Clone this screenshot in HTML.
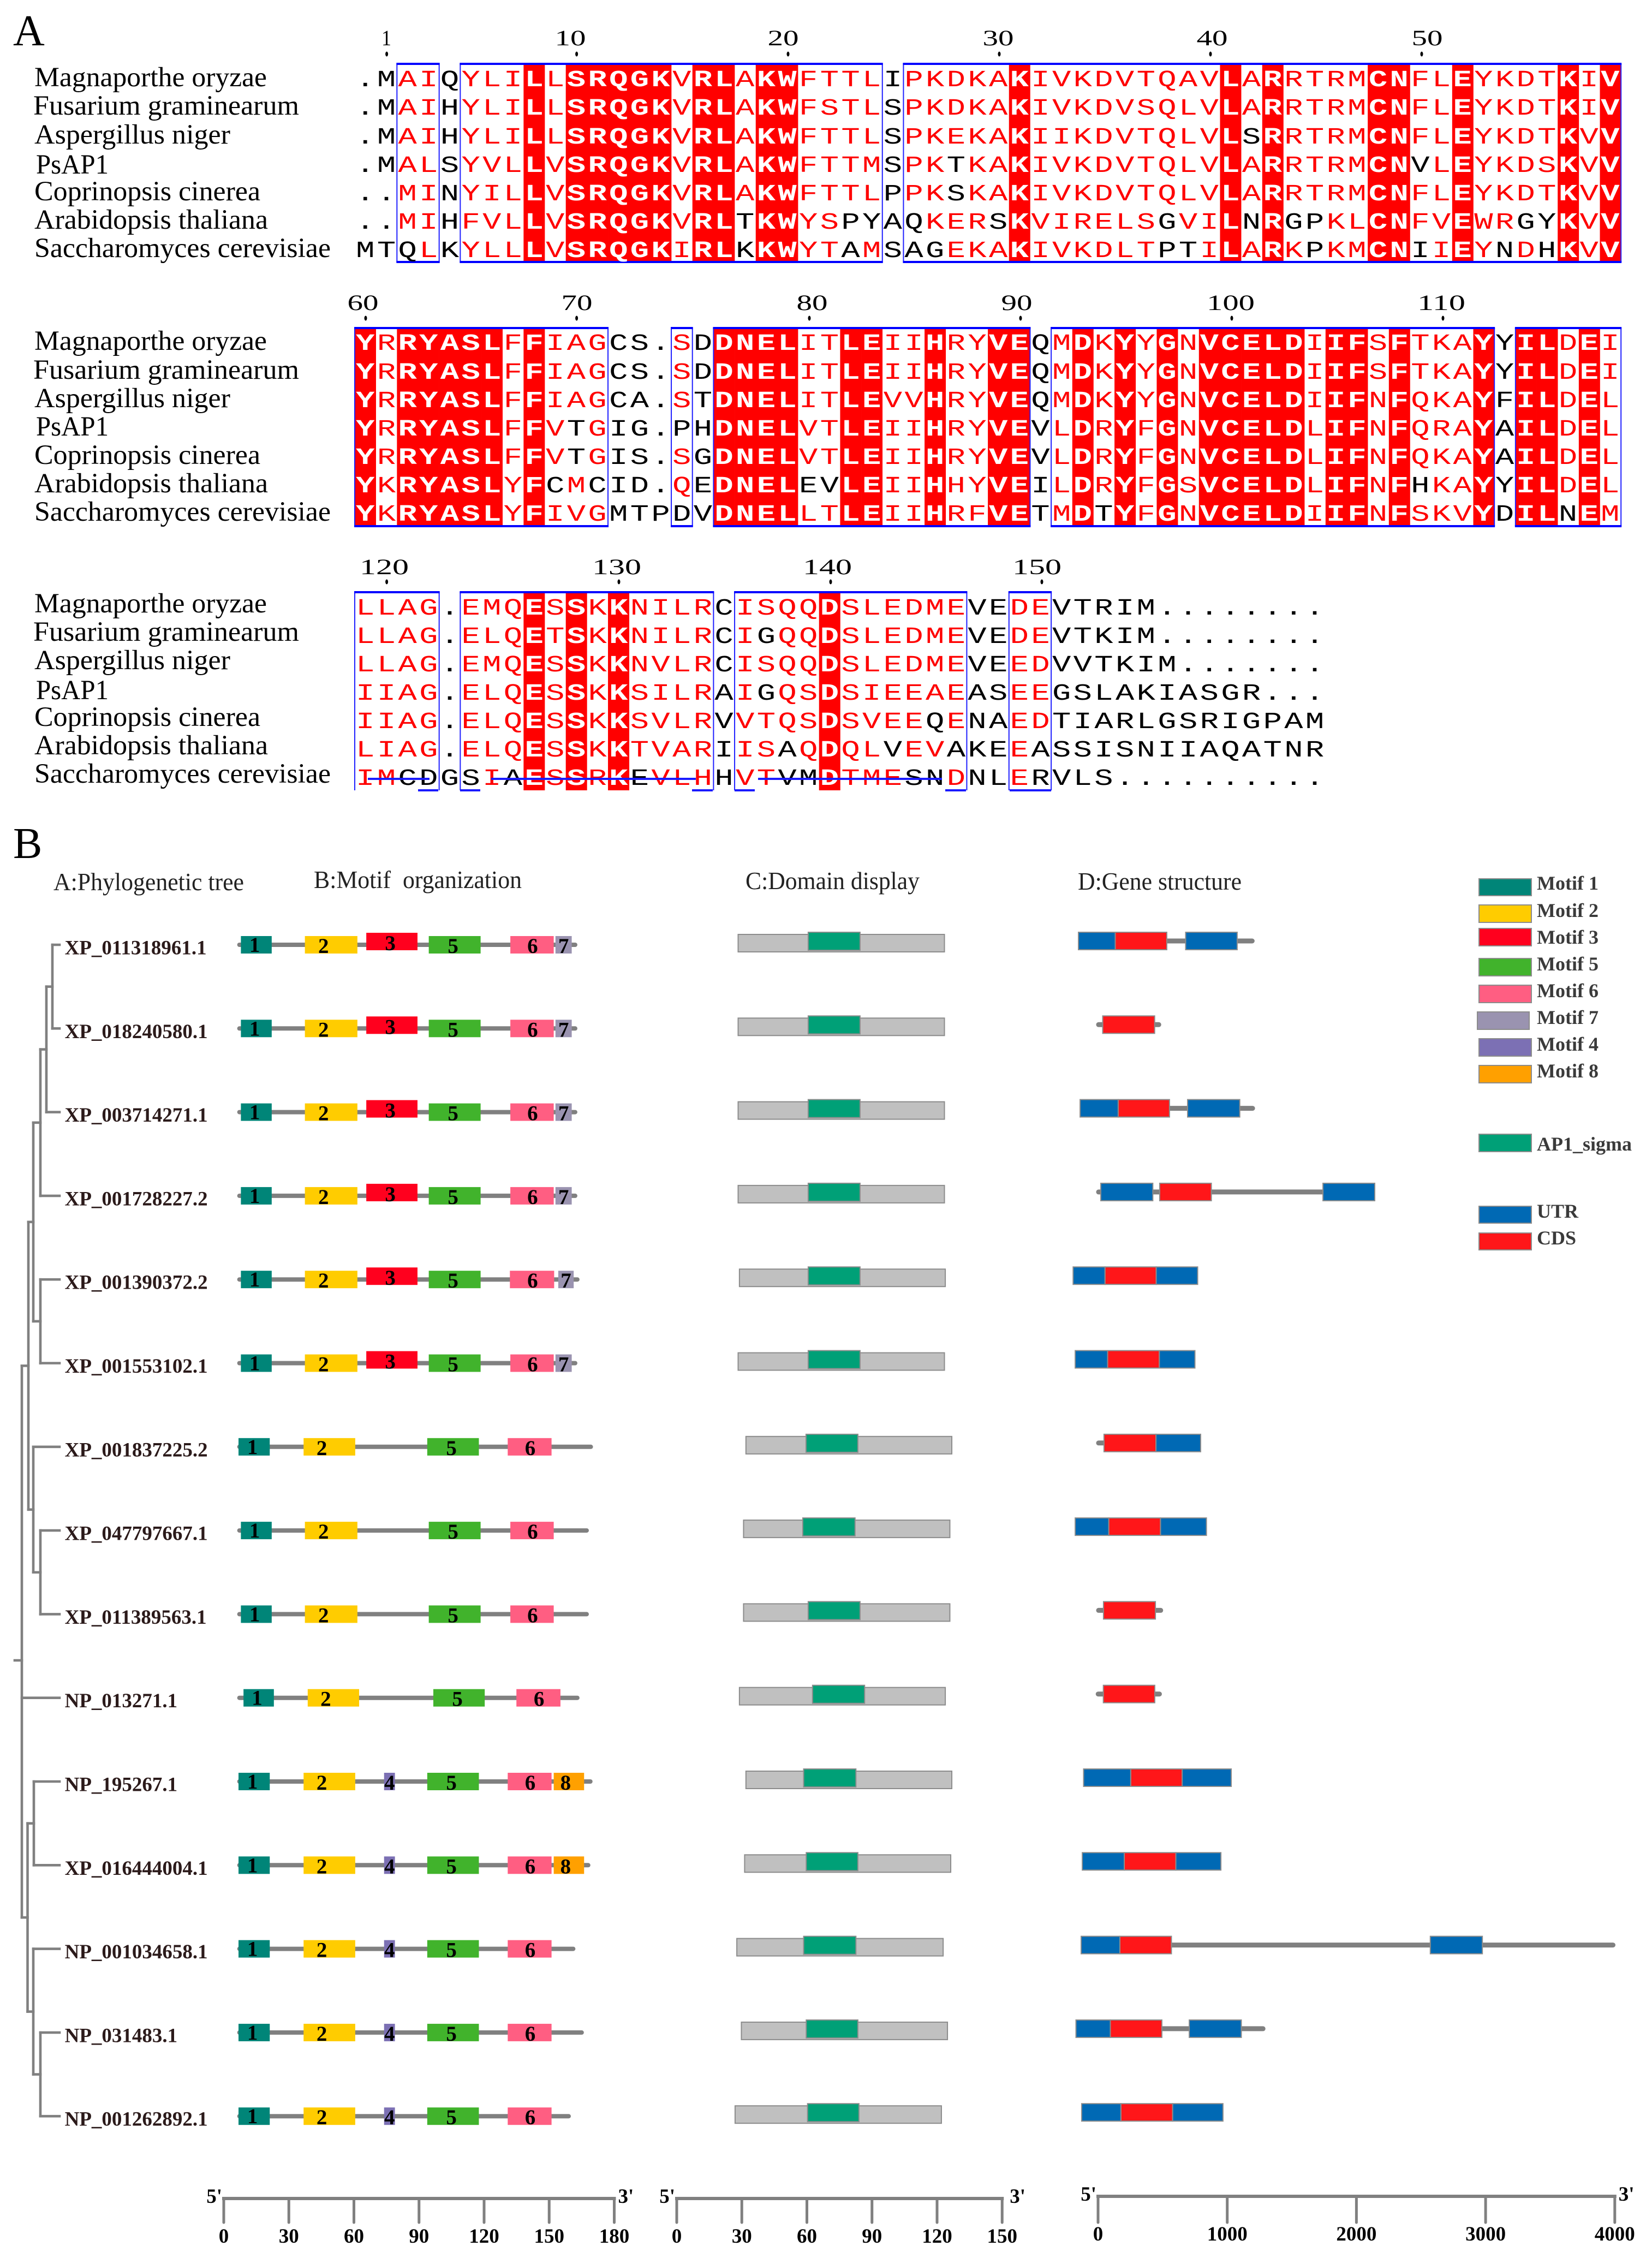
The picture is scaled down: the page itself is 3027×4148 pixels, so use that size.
<!DOCTYPE html>
<html lang="en">
<head>
<meta charset="utf-8">
<title>Sequence alignment and gene structure figure</title>
<style>
html,body{margin:0;padding:0;background:#fff}
svg{display:block}
text{font-family:"Liberation Serif",serif}
.seq{font-family:"Liberation Mono",monospace;font-size:43px;letter-spacing:3.27px;fill:#f00}
.k{fill:#000}
.w{fill:#fff;font-weight:700}
.name{font-size:51px;fill:#000}
.ruler{font-size:40px;fill:#000;text-anchor:middle}
.panel{font-size:80px;fill:#000}
.head{font-size:45px;fill:#222}
.leg{font-size:36px;font-weight:700;fill:#3a3a3a}
.sw{stroke:#8c8c8c;stroke-width:2}
</style>
</head>
<body>
<svg id="fig" xmlns="http://www.w3.org/2000/svg" width="3027" height="4148" viewBox="0 0 3027 4148">
<rect width="3027" height="4148" fill="#fff"/>
<g id="alignBack"></g>

<text class="panel" x="24" y="83">A</text>
<text class="panel" x="24" y="1572">B</text>

<g>
<text class="ruler" x="708" y="83" textLength="18" lengthAdjust="spacingAndGlyphs">1</text>
<text class="ruler" x="1045" y="83" textLength="57" lengthAdjust="spacingAndGlyphs">10</text>
<text class="ruler" x="1435" y="83" textLength="57" lengthAdjust="spacingAndGlyphs">20</text>
<text class="ruler" x="1829" y="83" textLength="57" lengthAdjust="spacingAndGlyphs">30</text>
<text class="ruler" x="2221" y="83" textLength="57" lengthAdjust="spacingAndGlyphs">40</text>
<text class="ruler" x="2615" y="83" textLength="57" lengthAdjust="spacingAndGlyphs">50</text>
<ellipse cx="708.6" cy="99" rx="2.5" ry="4.5"/>
<ellipse cx="1056.6" cy="99" rx="2.5" ry="4.5"/>
<ellipse cx="1444" cy="99" rx="2.5" ry="4.5"/>
<ellipse cx="1831" cy="99" rx="2.5" ry="4.5"/>
<ellipse cx="2218" cy="99" rx="2.5" ry="4.5"/>
<ellipse cx="2605" cy="99" rx="2.5" ry="4.5"/>
</g>
<g>
<text class="ruler" x="665" y="568" textLength="57" lengthAdjust="spacingAndGlyphs">60</text>
<text class="ruler" x="1057" y="568" textLength="57" lengthAdjust="spacingAndGlyphs">70</text>
<text class="ruler" x="1488" y="568" textLength="57" lengthAdjust="spacingAndGlyphs">80</text>
<text class="ruler" x="1863" y="568" textLength="57" lengthAdjust="spacingAndGlyphs">90</text>
<text class="ruler" x="2255" y="568" textLength="88" lengthAdjust="spacingAndGlyphs">100</text>
<text class="ruler" x="2641" y="568" textLength="88" lengthAdjust="spacingAndGlyphs">110</text>
<ellipse cx="670" cy="583" rx="2.5" ry="4.5"/>
<ellipse cx="1056.6" cy="583" rx="2.5" ry="4.5"/>
<ellipse cx="1483" cy="583" rx="2.5" ry="4.5"/>
<ellipse cx="1870" cy="583" rx="2.5" ry="4.5"/>
<ellipse cx="2257" cy="583" rx="2.5" ry="4.5"/>
<ellipse cx="2644" cy="583" rx="2.5" ry="4.5"/>
</g>
<g>
<text class="ruler" x="704" y="1052" textLength="90" lengthAdjust="spacingAndGlyphs">120</text>
<text class="ruler" x="1130" y="1052" textLength="90" lengthAdjust="spacingAndGlyphs">130</text>
<text class="ruler" x="1516" y="1052" textLength="90" lengthAdjust="spacingAndGlyphs">140</text>
<text class="ruler" x="1900" y="1052" textLength="90" lengthAdjust="spacingAndGlyphs">150</text>
<ellipse cx="708.6" cy="1066" rx="2.5" ry="4.5"/>
<ellipse cx="1134" cy="1066" rx="2.5" ry="4.5"/>
<ellipse cx="1522" cy="1066" rx="2.5" ry="4.5"/>
<ellipse cx="1909" cy="1066" rx="2.5" ry="4.5"/>
</g>

<g>
<text class="name" x="63" y="158" textLength="426" lengthAdjust="spacingAndGlyphs">Magnaporthe oryzae</text>
<text class="name" x="61" y="210" textLength="487" lengthAdjust="spacingAndGlyphs">Fusarium graminearum</text>
<text class="name" x="63" y="263" textLength="359" lengthAdjust="spacingAndGlyphs">Aspergillus niger</text>
<text class="name" x="66" y="318" textLength="133" lengthAdjust="spacingAndGlyphs">PsAP1</text>
<text class="name" x="63" y="367" textLength="414" lengthAdjust="spacingAndGlyphs">Coprinopsis cinerea</text>
<text class="name" x="63" y="419" textLength="428" lengthAdjust="spacingAndGlyphs">Arabidopsis thaliana</text>
<text class="name" x="63" y="471" textLength="543" lengthAdjust="spacingAndGlyphs">Saccharomyces cerevisiae</text>
</g>
<g>
<text class="name" x="63" y="641" textLength="426" lengthAdjust="spacingAndGlyphs">Magnaporthe oryzae</text>
<text class="name" x="61" y="694" textLength="487" lengthAdjust="spacingAndGlyphs">Fusarium graminearum</text>
<text class="name" x="63" y="746" textLength="359" lengthAdjust="spacingAndGlyphs">Aspergillus niger</text>
<text class="name" x="66" y="798" textLength="133" lengthAdjust="spacingAndGlyphs">PsAP1</text>
<text class="name" x="63" y="850" textLength="414" lengthAdjust="spacingAndGlyphs">Coprinopsis cinerea</text>
<text class="name" x="63" y="902" textLength="428" lengthAdjust="spacingAndGlyphs">Arabidopsis thaliana</text>
<text class="name" x="63" y="954" textLength="543" lengthAdjust="spacingAndGlyphs">Saccharomyces cerevisiae</text>
</g>
<g>
<text class="name" x="63" y="1122" textLength="426" lengthAdjust="spacingAndGlyphs">Magnaporthe oryzae</text>
<text class="name" x="61" y="1174" textLength="487" lengthAdjust="spacingAndGlyphs">Fusarium graminearum</text>
<text class="name" x="63" y="1226" textLength="359" lengthAdjust="spacingAndGlyphs">Aspergillus niger</text>
<text class="name" x="66" y="1281" textLength="133" lengthAdjust="spacingAndGlyphs">PsAP1</text>
<text class="name" x="63" y="1330" textLength="414" lengthAdjust="spacingAndGlyphs">Coprinopsis cinerea</text>
<text class="name" x="63" y="1382" textLength="428" lengthAdjust="spacingAndGlyphs">Arabidopsis thaliana</text>
<text class="name" x="63" y="1434" textLength="543" lengthAdjust="spacingAndGlyphs">Saccharomyces cerevisiae</text>
</g>

<g transform="translate(650 0) scale(1.33 1)">
<text class="seq" x="1.64" y="158"><tspan class="k">.M</tspan>AI<tspan class="k">Q</tspan>YLI<tspan class="w">L</tspan>L<tspan class="w">SRQGK</tspan>V<tspan class="w">RL</tspan>A<tspan class="w">KW</tspan>FTTL<tspan class="k">I</tspan>PKDKA<tspan class="w">K</tspan>IVKDVTQAV<tspan class="w">L</tspan>A<tspan class="w">R</tspan>RTRM<tspan class="w">CN</tspan>FL<tspan class="w">E</tspan>YKDT<tspan class="w">K</tspan>I<tspan class="w">V</tspan></text>
<text class="seq" x="1.64" y="210"><tspan class="k">.M</tspan>AI<tspan class="k">H</tspan>YLI<tspan class="w">L</tspan>L<tspan class="w">SRQGK</tspan>V<tspan class="w">RL</tspan>A<tspan class="w">KW</tspan>FSTL<tspan class="k">S</tspan>PKDKA<tspan class="w">K</tspan>IVKDVSQLV<tspan class="w">L</tspan>A<tspan class="w">R</tspan>RTRM<tspan class="w">CN</tspan>FL<tspan class="w">E</tspan>YKDT<tspan class="w">K</tspan>I<tspan class="w">V</tspan></text>
<text class="seq" x="1.64" y="263"><tspan class="k">.M</tspan>AI<tspan class="k">H</tspan>YLI<tspan class="w">L</tspan>L<tspan class="w">SRQGK</tspan>V<tspan class="w">RL</tspan>A<tspan class="w">KW</tspan>FTTL<tspan class="k">S</tspan>PKEKA<tspan class="w">K</tspan>IIKDVTQLV<tspan class="w">L</tspan><tspan class="k">S</tspan><tspan class="w">R</tspan>RTRM<tspan class="w">CN</tspan>FL<tspan class="w">E</tspan>YKDT<tspan class="w">K</tspan>V<tspan class="w">V</tspan></text>
<text class="seq" x="1.64" y="315"><tspan class="k">.M</tspan>AL<tspan class="k">S</tspan>YVL<tspan class="w">L</tspan>V<tspan class="w">SRQGK</tspan>V<tspan class="w">RL</tspan>A<tspan class="w">KW</tspan>FTTM<tspan class="k">S</tspan>PK<tspan class="k">T</tspan>KA<tspan class="w">K</tspan>IVKDVTQLV<tspan class="w">L</tspan>A<tspan class="w">R</tspan>RTRM<tspan class="w">CN</tspan><tspan class="k">V</tspan>L<tspan class="w">E</tspan>YKDS<tspan class="w">K</tspan>V<tspan class="w">V</tspan></text>
<text class="seq" x="1.64" y="367"><tspan class="k">..</tspan>MI<tspan class="k">N</tspan>YIL<tspan class="w">L</tspan>V<tspan class="w">SRQGK</tspan>V<tspan class="w">RL</tspan>A<tspan class="w">KW</tspan>FTTL<tspan class="k">P</tspan>PK<tspan class="k">S</tspan>KA<tspan class="w">K</tspan>IVKDVTQLV<tspan class="w">L</tspan>A<tspan class="w">R</tspan>RTRM<tspan class="w">CN</tspan>FL<tspan class="w">E</tspan>YKDT<tspan class="w">K</tspan>V<tspan class="w">V</tspan></text>
<text class="seq" x="1.64" y="419"><tspan class="k">..</tspan>MI<tspan class="k">H</tspan>FVL<tspan class="w">L</tspan>V<tspan class="w">SRQGK</tspan>V<tspan class="w">RL</tspan><tspan class="k">T</tspan><tspan class="w">KW</tspan>YS<tspan class="k">PYAQ</tspan>KER<tspan class="k">S</tspan><tspan class="w">K</tspan>VIRELS<tspan class="k">G</tspan>VI<tspan class="w">L</tspan><tspan class="k">N</tspan><tspan class="w">R</tspan><tspan class="k">GP</tspan>KL<tspan class="w">CN</tspan>FV<tspan class="w">E</tspan>WR<tspan class="k">GY</tspan><tspan class="w">K</tspan>V<tspan class="w">V</tspan></text>
<text class="seq" x="1.64" y="471"><tspan class="k">MTQ</tspan>L<tspan class="k">K</tspan>YLL<tspan class="w">L</tspan>V<tspan class="w">SRQGK</tspan>I<tspan class="w">RL</tspan><tspan class="k">K</tspan><tspan class="w">KW</tspan>YT<tspan class="k">A</tspan>M<tspan class="k">SAG</tspan>EKA<tspan class="w">K</tspan>IVKDLT<tspan class="k">PT</tspan>I<tspan class="w">L</tspan>A<tspan class="w">R</tspan>K<tspan class="k">P</tspan>KM<tspan class="w">CN</tspan><tspan class="k">I</tspan>I<tspan class="w">E</tspan>Y<tspan class="k">N</tspan>D<tspan class="k">H</tspan><tspan class="w">K</tspan>V<tspan class="w">V</tspan></text>

<text class="seq" x="1.64" y="641"><tspan class="w">Y</tspan>R<tspan class="w">RYASL</tspan>F<tspan class="w">F</tspan>IAG<tspan class="k">CS.</tspan>S<tspan class="k">D</tspan><tspan class="w">DNEL</tspan>IT<tspan class="w">LE</tspan>II<tspan class="w">H</tspan>RY<tspan class="w">VE</tspan><tspan class="k">Q</tspan>M<tspan class="w">D</tspan>K<tspan class="w">Y</tspan>Y<tspan class="w">G</tspan>N<tspan class="w">VCELD</tspan>I<tspan class="w">IF</tspan>S<tspan class="w">F</tspan>TKA<tspan class="w">Y</tspan><tspan class="k">Y</tspan><tspan class="w">IL</tspan>D<tspan class="w">E</tspan>I</text>
<text class="seq" x="1.64" y="694"><tspan class="w">Y</tspan>R<tspan class="w">RYASL</tspan>F<tspan class="w">F</tspan>IAG<tspan class="k">CS.</tspan>S<tspan class="k">D</tspan><tspan class="w">DNEL</tspan>IT<tspan class="w">LE</tspan>II<tspan class="w">H</tspan>RY<tspan class="w">VE</tspan><tspan class="k">Q</tspan>M<tspan class="w">D</tspan>K<tspan class="w">Y</tspan>Y<tspan class="w">G</tspan>N<tspan class="w">VCELD</tspan>I<tspan class="w">IF</tspan>S<tspan class="w">F</tspan>TKA<tspan class="w">Y</tspan><tspan class="k">Y</tspan><tspan class="w">IL</tspan>D<tspan class="w">E</tspan>I</text>
<text class="seq" x="1.64" y="746"><tspan class="w">Y</tspan>R<tspan class="w">RYASL</tspan>F<tspan class="w">F</tspan>IAG<tspan class="k">CA.</tspan>S<tspan class="k">T</tspan><tspan class="w">DNEL</tspan>IT<tspan class="w">LE</tspan>VV<tspan class="w">H</tspan>RY<tspan class="w">VE</tspan><tspan class="k">Q</tspan>M<tspan class="w">D</tspan>K<tspan class="w">Y</tspan>Y<tspan class="w">G</tspan>N<tspan class="w">VCELD</tspan>I<tspan class="w">IF</tspan>N<tspan class="w">F</tspan>QKA<tspan class="w">Y</tspan><tspan class="k">F</tspan><tspan class="w">IL</tspan>D<tspan class="w">E</tspan>L</text>
<text class="seq" x="1.64" y="798"><tspan class="w">Y</tspan>R<tspan class="w">RYASL</tspan>F<tspan class="w">F</tspan>V<tspan class="k">T</tspan>G<tspan class="k">IG.PH</tspan><tspan class="w">DNEL</tspan>VT<tspan class="w">LE</tspan>II<tspan class="w">H</tspan>RY<tspan class="w">VE</tspan><tspan class="k">V</tspan>L<tspan class="w">D</tspan>R<tspan class="w">Y</tspan>F<tspan class="w">G</tspan>N<tspan class="w">VCELD</tspan>L<tspan class="w">IF</tspan>N<tspan class="w">F</tspan>QRA<tspan class="w">Y</tspan><tspan class="k">A</tspan><tspan class="w">IL</tspan>D<tspan class="w">E</tspan>L</text>
<text class="seq" x="1.64" y="850"><tspan class="w">Y</tspan>R<tspan class="w">RYASL</tspan>F<tspan class="w">F</tspan>V<tspan class="k">T</tspan>G<tspan class="k">IS.</tspan>S<tspan class="k">G</tspan><tspan class="w">DNEL</tspan>VT<tspan class="w">LE</tspan>II<tspan class="w">H</tspan>RY<tspan class="w">VE</tspan><tspan class="k">V</tspan>L<tspan class="w">D</tspan>R<tspan class="w">Y</tspan>F<tspan class="w">G</tspan>N<tspan class="w">VCELD</tspan>L<tspan class="w">IF</tspan>N<tspan class="w">F</tspan>QKA<tspan class="w">Y</tspan><tspan class="k">A</tspan><tspan class="w">IL</tspan>D<tspan class="w">E</tspan>L</text>
<text class="seq" x="1.64" y="902"><tspan class="w">Y</tspan>K<tspan class="w">RYASL</tspan>Y<tspan class="w">F</tspan><tspan class="k">C</tspan>M<tspan class="k">CID.</tspan>Q<tspan class="k">E</tspan><tspan class="w">DNEL</tspan><tspan class="k">EV</tspan><tspan class="w">LE</tspan>II<tspan class="w">H</tspan>HY<tspan class="w">VE</tspan><tspan class="k">I</tspan>L<tspan class="w">D</tspan>R<tspan class="w">Y</tspan>F<tspan class="w">G</tspan>S<tspan class="w">VCELD</tspan>L<tspan class="w">IF</tspan>N<tspan class="w">F</tspan><tspan class="k">H</tspan>KA<tspan class="w">Y</tspan><tspan class="k">Y</tspan><tspan class="w">IL</tspan>D<tspan class="w">E</tspan>L</text>
<text class="seq" x="1.64" y="954"><tspan class="w">Y</tspan>K<tspan class="w">RYASL</tspan>Y<tspan class="w">F</tspan>IVG<tspan class="k">MTPDV</tspan><tspan class="w">DNEL</tspan>LT<tspan class="w">LE</tspan>II<tspan class="w">H</tspan>RF<tspan class="w">VE</tspan><tspan class="k">T</tspan>M<tspan class="w">D</tspan><tspan class="k">T</tspan><tspan class="w">Y</tspan>F<tspan class="w">G</tspan>N<tspan class="w">VCELD</tspan>I<tspan class="w">IF</tspan>N<tspan class="w">F</tspan>SKV<tspan class="w">Y</tspan><tspan class="k">D</tspan><tspan class="w">IL</tspan><tspan class="k">N</tspan><tspan class="w">E</tspan>M</text>

<text class="seq" x="1.64" y="1126">LLAG<tspan class="k">.</tspan>EMQ<tspan class="w">E</tspan>S<tspan class="w">S</tspan>K<tspan class="w">K</tspan>NILR<tspan class="k">C</tspan>ISQQ<tspan class="w">D</tspan>SLEDME<tspan class="k">VE</tspan>DE<tspan class="k">VTRIM........</tspan></text>
<text class="seq" x="1.64" y="1178">LLAG<tspan class="k">.</tspan>ELQ<tspan class="w">E</tspan>T<tspan class="w">S</tspan>K<tspan class="w">K</tspan>NILR<tspan class="k">C</tspan>I<tspan class="k">G</tspan>QQ<tspan class="w">D</tspan>SLEDME<tspan class="k">VE</tspan>DE<tspan class="k">VTKIM........</tspan></text>
<text class="seq" x="1.64" y="1230">LLAG<tspan class="k">.</tspan>EMQ<tspan class="w">E</tspan>S<tspan class="w">S</tspan>K<tspan class="w">K</tspan>NVLR<tspan class="k">C</tspan>ISQQ<tspan class="w">D</tspan>SLEDME<tspan class="k">VE</tspan>ED<tspan class="k">VVTKIM.......</tspan></text>
<text class="seq" x="1.64" y="1282">IIAG<tspan class="k">.</tspan>ELQ<tspan class="w">E</tspan>S<tspan class="w">S</tspan>K<tspan class="w">K</tspan>SILR<tspan class="k">A</tspan>I<tspan class="k">G</tspan>QS<tspan class="w">D</tspan>SIEEAE<tspan class="k">AS</tspan>EE<tspan class="k">GSLAKIASGR...</tspan></text>
<text class="seq" x="1.64" y="1334">IIAG<tspan class="k">.</tspan>ELQ<tspan class="w">E</tspan>S<tspan class="w">S</tspan>K<tspan class="w">K</tspan>SVLR<tspan class="k">V</tspan>VTQS<tspan class="w">D</tspan>SVEE<tspan class="k">Q</tspan>E<tspan class="k">NA</tspan>ED<tspan class="k">TIARLGSRIGPAM</tspan></text>
<text class="seq" x="1.64" y="1386">LIAG<tspan class="k">.</tspan>ELQ<tspan class="w">E</tspan>S<tspan class="w">S</tspan>K<tspan class="w">K</tspan>TVAR<tspan class="k">I</tspan>IS<tspan class="k">A</tspan>Q<tspan class="w">D</tspan>QL<tspan class="k">V</tspan>EV<tspan class="k">AKE</tspan>E<tspan class="k">ASSISNIIAQATNR</tspan></text>
<text class="seq" x="1.64" y="1438">IM<tspan class="k">CDGS</tspan>I<tspan class="k">A</tspan><tspan class="w">E</tspan>S<tspan class="w">S</tspan>R<tspan class="w">K</tspan><tspan class="k">E</tspan>VLH<tspan class="k">H</tspan>VT<tspan class="k">VM</tspan><tspan class="w">D</tspan>TME<tspan class="k">SN</tspan>D<tspan class="k">NL</tspan>E<tspan class="k">RVLS..........</tspan></text>
</g>

<g stroke="#1a1aff" stroke-width="4" fill="none">
<path d="M674 1427H787M766 1448H803"/>
<path d="M843 1448H880M900 1427H1275M1268 1448H1306"/>
<path d="M1346 1448H1383M1389 1427H1726M1732 1448H1770"/>
<path d="M1850 1448H1926"/>
</g>

<text class="head" x="98" y="1631" textLength="349" lengthAdjust="spacingAndGlyphs">A:Phylogenetic tree</text>
<text class="head" x="575" y="1627" textLength="381" lengthAdjust="spacingAndGlyphs">B:Motif&#160; organization</text>
<text class="head" x="1366" y="1629" textLength="319" lengthAdjust="spacingAndGlyphs">C:Domain display</text>
<text class="head" x="1975" y="1630" textLength="300" lengthAdjust="spacingAndGlyphs">D:Gene structure</text>

<g id="tree" fill="none" stroke="#808080" stroke-width="4.6" stroke-linecap="square"></g>
<g id="rows"></g>
<g id="axes"></g>

<g>
<rect class="sw" x="2710" y="1610" width="96" height="31" fill="#008578"/>
<text class="leg" x="2816" y="1630">Motif 1</text>
<rect class="sw" x="2710" y="1658" width="96" height="32" fill="#ffcc00"/>
<text class="leg" x="2816" y="1680">Motif 2</text>
<rect class="sw" x="2710" y="1701" width="96" height="32" fill="#ff001e"/>
<text class="leg" x="2816" y="1729">Motif 3</text>
<rect class="sw" x="2710" y="1756" width="96" height="32" fill="#41b32c"/>
<text class="leg" x="2816" y="1778">Motif 5</text>
<rect class="sw" x="2710" y="1805" width="96" height="32" fill="#ff5e82"/>
<text class="leg" x="2816" y="1827">Motif 6</text>
<rect class="sw" x="2707" y="1854" width="95" height="32" fill="#9a93b0"/>
<text class="leg" x="2816" y="1876">Motif 7</text>
<rect class="sw" x="2710" y="1903" width="96" height="32" fill="#7c70b4"/>
<text class="leg" x="2816" y="1925">Motif 4</text>
<rect class="sw" x="2710" y="1952" width="96" height="32" fill="#ffa000"/>
<text class="leg" x="2816" y="1974">Motif 8</text>
<rect class="sw" x="2710" y="2078" width="96" height="32" fill="#00a077"/>
<text class="leg" x="2816" y="2108">AP1_sigma</text>
<rect class="sw" x="2710" y="2210" width="96" height="31" fill="#0069b4"/>
<text class="leg" x="2816" y="2231">UTR</text>
<rect class="sw" x="2710" y="2259" width="96" height="31" fill="#ff1619"/>
<text class="leg" x="2816" y="2280">CDS</text>
</g>
</svg>

<script>
/* Panel A: alignment columns (column index, 0-based) */
const conservedColumns1 = [8,10,11,12,13,14,16,17,19,20,31,41,43,48,49,52,57,59];
const conservedColumns2 = [0,2,3,4,5,6,8,17,18,19,20,23,24,27,30,31,34,36,38,40,41,42,43,44,46,47,49,53,55,56,58];
const conservedColumns3 = [8,10,12,22];
const similarityBoxes1 = [[2,3],[5,24],[26,59]];
const similarityBoxes2 = [[0,11],[15,15],[17,31],[33,53],[55,59]];
const similarityBoxes3 = [[0,3],[5,16],[18,28],[31,32]];

/* Panel B: rows */
const accessions = ["XP_011318961.1","XP_018240580.1","XP_003714271.1","XP_001728227.2","XP_001390372.2","XP_001553102.1","XP_001837225.2","XP_047797667.1","XP_011389563.1","NP_013271.1","NP_195267.1","XP_016444004.1","NP_001034658.1","NP_031483.1","NP_001262892.1"];
/* nested tree: [branch depth, ...children]; plain numbers are leaf rows */
const treeShape = [13,[25,[34,[47,[58,[69,0,1],2],3],[47,4,5]],[34,6,[47,7,8]]],9,[23.5,[35,10,11],[34,12,[47,13,14]]]];

/* motif hits per row: [motif id, start aa, end aa] */
const motifHits = [
 [[1,7.9,22.1],[2,37.4,61.6],[3,65.7,89.3],[5,94.5,118.4],[6,132.1,152.1],[7,152.9,160.4]],
 [[1,7.9,22.1],[2,37.4,61.6],[3,65.7,89.3],[5,94.5,118.4],[6,132.1,152.1],[7,152.9,160.4]],
 [[1,7.9,22.1],[2,37.4,61.6],[3,65.7,89.3],[5,94.5,118.4],[6,132.1,152.1],[7,152.9,160.4]],
 [[1,7.9,22.1],[2,37.4,61.6],[3,65.7,89.3],[5,94.5,118.4],[6,132.1,152.1],[7,152.9,160.4]],
 [[1,7.9,22.1],[2,37.4,61.6],[3,65.7,89.3],[5,94.5,118.4],[6,131.9,152.3],[7,154.2,161.3]],
 [[1,7.9,22.1],[2,37.4,61.6],[3,65.7,89.3],[5,94.5,118.4],[6,132.1,152.1],[7,152.9,160.4]],
 [[1,6.8,21.2],[2,36.8,60.6],[5,93.8,117.6],[6,130.9,151.1]],
 [[1,7.9,22.1],[2,37.4,61.6],[5,94.5,118.4],[6,132.1,152.1]],
 [[1,7.9,22.1],[2,37.4,61.6],[5,94.5,118.4],[6,132.1,152.1]],
 [[1,9.1,23.1],[2,38.7,62.4],[5,96.6,120.3],[6,134.9,155.2]],
 [[1,6.8,21.2],[2,36.8,60.6],[4,73.9,78.9],[5,93.8,117.6],[6,130.9,151.1],[8,152.1,166.1]],
 [[1,6.8,21.2],[2,36.8,60.6],[4,73.9,78.9],[5,93.8,117.6],[6,130.9,151.1],[8,152.1,166.1]],
 [[1,6.8,21.2],[2,36.8,60.6],[4,73.9,78.9],[5,93.8,117.6],[6,130.9,151.1]],
 [[1,6.8,21.2],[2,36.8,60.6],[4,73.9,78.9],[5,93.8,117.6],[6,130.9,151.1]],
 [[1,6.8,21.2],[2,36.8,60.6],[4,73.9,78.9],[5,93.8,117.6],[6,130.9,151.1]]
];
const proteinStarts = [6.2,6.2,6.2,6.2,6.2,6.2,6.2,6.2,6.2,6.2,6.2,6.2,6.2,6.2,6.2];
const proteinEnds = [163,163,163,163,164,163,170.2,168.3,168.3,164,170,169,162.1,166,160];

/* domain display: [start aa, end aa] */
const domainSpans = [[28.3,123.4],[28.3,123.4],[28.3,123.4],[28.3,123.4],[28.9,123.8],[28.3,123.4],[31.9,126.8],[30.8,125.9],[30.8,125.9],[28.9,123.8],[31.9,126.8],[31.3,126.3],[27.7,122.8],[29.8,124.8],[26.9,122]];
const ap1SigmaSpans = [[60.6,84.5],[60.6,84.5],[60.6,84.5],[60.6,84.5],[60.6,84.5],[60.6,84.5],[59.6,83.5],[58.1,82.2],[60.6,84.5],[62.6,86.6],[58.5,82.6],[59.7,83.5],[58.5,82.6],[59.7,83.5],[60.3,84]];

/* gene structure: bp along scale */
const geneExtents = [[-152,1212],[-15,489],[-139,1215],[-15,2142],[-193,771],[-177,750],[-15,794],[-177,839],[-15,504],[-18,494],[-112,1031],[-122,951],[-131,4005],[-171,1296],[-127,967]];
const utrSpans = [[[-152,133],[678,1077]],[],[[-139,156],[693,1097]],[[21,424],[1741,2142]],[[-193,54],[450,771]],[[-177,74],[474,750]],[[448,794]],[[-177,83],[483,839]],[],[],[[-112,253],[651,1031]],[[-122,203],[602,951]],[[-131,169],[2572,2975]],[[-171,95],[706,1109]],[[-127,177],[577,967]]];
const cdsSpans = [[133,532],[36,438],[156,553],[477,877],[54,450],[74,474],[46,448],[83,483],[42,444],[41,439],[253,651],[203,602],[169,568],[95,494],[177,577]];

/* axes */
const motifTicks = [0,30,60,90,120,150,180];
const domainTicks = [0,30,60,90,120,150];
const geneTicks = [0,1000,2000,3000,4000];

const motifColors = {1:"#008578",2:"#ffcc00",3:"#ff001e",4:"#7c70b4",5:"#41b32c",6:"#ff5e82",7:"#9a93b0",8:"#ffa000"};
const motifLabelShift = {1:-3,2:-14,3:-3,4:0,5:-3,6:1,7:0,8:-6};
const motifLabelDrop = {1:13,2:15,3:10,4:15,5:15,6:15,7:15,8:15};

const NS = "http://www.w3.org/2000/svg";
const colX = i => 650 + i * 38.67;
const rowY = i => 1731 + i * 153.3;
const motifX = v => 410 + v * 3.975;
const domainX = v => 1240 + v * 3.975;
const geneX = v => 2012 + v * 0.2367;
const treeX = d => 27 + d;

function mk(tag, parent, attrs, txt) {
  const el = document.createElementNS(NS, tag);
  for (const k in attrs) el.setAttribute(k, attrs[k]);
  if (txt !== undefined) el.textContent = txt;
  parent.appendChild(el);
  return el;
}

/* Panel A background */
const back = document.getElementById("alignBack");
function drawBlock(columns, boxes, top, bottom, closeBottom) {
  columns.forEach(c => {
    const r = mk("rect", back, {x: colX(c), y: top, width: 38.97, height: bottom - top, fill: "#f00"});
    
    
  });
  boxes.forEach(b => {
    const x0 = colX(b[0]), x1 = colX(b[1] + 1);
    const side = mk("path", back, {d: `M${x0} ${top}V${bottom}M${x1} ${top}V${bottom}`, stroke: "#2020ff", "stroke-width": 2, fill: "none"});
    
    
    const topLine = mk("line", back, {x1: x0 - 1, x2: x1 + 1, y1: top, y2: top, stroke: "#0000ff", "stroke-width": 4});
    
    
    if (closeBottom) {
      const botLine = mk("line", back, {x1: x0 - 1, x2: x1 + 1, y1: bottom, y2: bottom, stroke: "#0000ff", "stroke-width": 4});
      
      
    }
  });
}
drawBlock(conservedColumns1, similarityBoxes1, 117, 480, true);
drawBlock(conservedColumns2, similarityBoxes2, 601, 964, true);
drawBlock(conservedColumns3, similarityBoxes3, 1085, 1448, false);

/* Tree */
const treeG = document.getElementById("tree");
function drawNode(node, parentDepth) {
  if (typeof node === "number") {
    const y = rowY(node);
    const leaf = mk("line", treeG, {x1: treeX(parentDepth), x2: 109, y1: y, y2: y});
    
    
    return y;
  }
  const depth = node[0];
  const ys = node.slice(1).map(ch => drawNode(ch, depth));
  const y = ys.reduce((a, b) => a + b, 0) / ys.length;
  const vert = mk("line", treeG, {x1: treeX(depth), x2: treeX(depth), y1: Math.min(...ys), y2: Math.max(...ys)});
  
  
  const stem = mk("line", treeG, {x1: treeX(parentDepth), x2: treeX(depth), y1: y, y2: y});
  
  
  return y;
}
drawNode(treeShape, 0);

/* Rows */
const rowsG = document.getElementById("rows");
accessions.forEach((acc, i) => {
  const y = rowY(i);
  const lab = mk("text", rowsG, {x: 118.6, y: y + 17.5, "font-size": 37, "font-weight": 700, fill: "#2b1a1a"}, acc);
  
  

  const line = mk("line", rowsG, {x1: motifX(proteinStarts[i]) + 4, x2: motifX(proteinEnds[i]) - 4, y1: y, y2: y, stroke: "#808080", "stroke-width": 8, "stroke-linecap": "round"});
  
  

  motifHits[i].forEach(h => {
    const id = h[0], x0 = motifX(h[1]), x1 = motifX(h[2]);
    const raise = id === 3 ? -22 : -16;
    const box = mk("rect", rowsG, {x: x0, y: y + raise, width: x1 - x0, height: 32, fill: motifColors[id]});
    
    
    const num = mk("text", rowsG, {x: (x0 + x1) / 2 + motifLabelShift[id], y: y + motifLabelDrop[id], "font-size": 39, "font-weight": 700, "text-anchor": "middle", fill: "#000"}, id);
    
    
  });

  const ds = domainSpans[i];
  const grey = mk("rect", rowsG, {x: domainX(ds[0]), y: y - 19, width: domainX(ds[1]) - domainX(ds[0]), height: 32, fill: "#c0c0c0", stroke: "#8c8c8c", "stroke-width": 2});
  
  
  const ap = ap1SigmaSpans[i];
  const green = mk("rect", rowsG, {x: domainX(ap[0]), y: y - 23, width: domainX(ap[1]) - domainX(ap[0]), height: 33, fill: "#00a077", stroke: "#8c8c8c", "stroke-width": 2});
  
  

  const ge = geneExtents[i];
  const gl = mk("line", rowsG, {x1: geneX(ge[0]) + 4.5, x2: geneX(ge[1]) - 4.5, y1: y - 7, y2: y - 7, stroke: "#808080", "stroke-width": 9, "stroke-linecap": "round"});
  
  
  utrSpans[i].forEach(u => {
    const ur = mk("rect", rowsG, {x: geneX(u[0]), y: y - 23, width: geneX(u[1]) - geneX(u[0]), height: 32, fill: "#0069b4", stroke: "#8c8c8c", "stroke-width": 2});
    
    
  });
  const c = cdsSpans[i];
  const cr = mk("rect", rowsG, {x: geneX(c[0]), y: y - 23, width: geneX(c[1]) - geneX(c[0]), height: 32, fill: "#ff1619", stroke: "#8c8c8c", "stroke-width": 2});
  
  
});

/* Axes */
const axesG = document.getElementById("axes");
function drawAxis(ticks, fx, y, labY, tagY, threeGap) {
  const first = fx(ticks[0]), last = fx(ticks[ticks.length - 1]);
  const base = mk("line", axesG, {x1: first, x2: last, y1: y, y2: y, stroke: "#808080", "stroke-width": 6, "stroke-linecap": "square"});
  
  
  ticks.forEach(t => {
    const tick = mk("line", axesG, {x1: fx(t), x2: fx(t), y1: y, y2: 4072, stroke: "#808080", "stroke-width": 5, "stroke-linecap": "round"});
    
    
    const lab = mk("text", axesG, {x: fx(t), y: labY, "font-size": 37, "font-weight": 700, "text-anchor": "middle", fill: "#000"}, t);
    
    
  });
  const five = mk("text", axesG, {x: first - 3, y: tagY, "font-size": 37, "font-weight": 700, "text-anchor": "end", fill: "#000"}, "5'");
  
  
  const three = mk("text", axesG, {x: last + threeGap, y: tagY, "font-size": 37, "font-weight": 700, fill: "#000"}, "3'");
  
  
}
drawAxis(motifTicks, motifX, 4028, 4109, 4036, 7);
drawAxis(domainTicks, domainX, 4028, 4109, 4036, 14);
drawAxis(geneTicks, geneX, 4024, 4105, 4032, 7);
</script>
</body>
</html>
